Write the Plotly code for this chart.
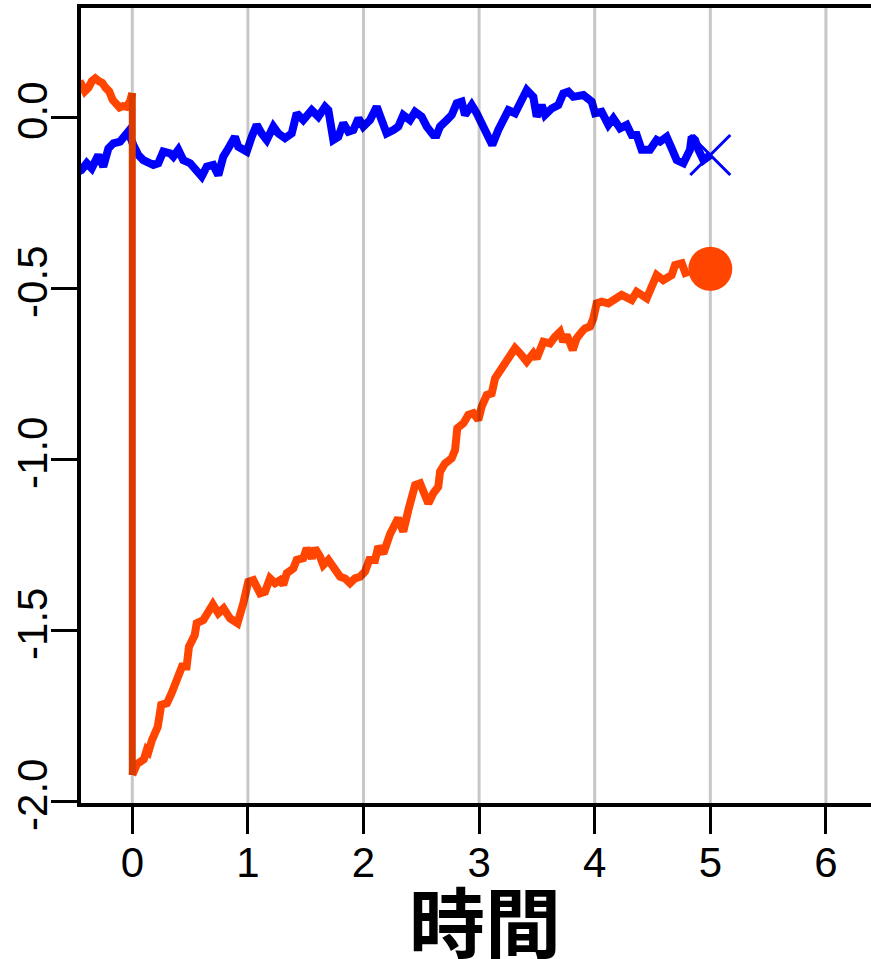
import plotly.graph_objects as go

# ---- data ----
orange_pre_x = [-0.47, -0.44, -0.41, -0.38, -0.35, -0.32, -0.29, -0.26, -0.23, -0.20, -0.17,
                -0.14, -0.11, -0.08, -0.05, -0.02, 0.0]
orange_pre_y = [0.09, 0.095, 0.075, 0.085, 0.105, 0.113, 0.105, 0.10, 0.085, 0.075, 0.05,
                0.035, 0.028, 0.032, 0.03, 0.045, 0.07]

orange_post_x = [0.0, 0.04, 0.07, 0.10, 0.125, 0.14, 0.17, 0.20, 0.22, 0.25,
                 0.30, 0.34, 0.385, 0.41, 0.43, 0.47, 0.49, 0.54, 0.557, 0.614,
                 0.657, 0.697, 0.744, 0.79, 0.845, 0.91, 0.96, 1.003, 1.047, 1.105,
                 1.148, 1.191, 1.235, 1.278, 1.306, 1.336, 1.393, 1.422, 1.479, 1.509,
                 1.552, 1.58, 1.624, 1.652, 1.696, 1.739, 1.797, 1.84, 1.883, 1.927,
                 1.97, 2.013, 2.05, 2.10, 2.128, 2.172, 2.229, 2.30, 2.344, 2.388,
                 2.446, 2.489, 2.561, 2.604, 2.647, 2.662, 2.705, 2.763, 2.792, 2.811,
                 2.863, 2.907, 2.95, 2.993, 3.022, 3.066, 3.109, 3.138, 3.181, 3.239,
                 3.311, 3.354, 3.412, 3.469, 3.498, 3.556, 3.613, 3.657, 3.70, 3.728,
                 3.758, 3.81, 3.844, 3.888, 3.916, 3.959, 3.988, 4.017, 4.06, 4.118,
                 4.161, 4.233, 4.32, 4.363, 4.45, 4.478, 4.536, 4.593, 4.666, 4.695,
                 4.753, 4.796]
orange_post_y = [-1.924, -1.892, -1.885, -1.878, -1.851, -1.856, -1.822, -1.805, -1.783, -1.719,
                 -1.714, -1.685, -1.646, -1.617, -1.607, -1.607, -1.549, -1.515, -1.48, -1.471,
                 -1.446, -1.425, -1.451, -1.437, -1.466, -1.48, -1.422, -1.359, -1.354, -1.393,
                 -1.388, -1.349, -1.363, -1.354, -1.368, -1.334, -1.32, -1.295, -1.29, -1.261,
                 -1.29, -1.261, -1.285, -1.31, -1.295, -1.315, -1.344, -1.349, -1.363, -1.349,
                 -1.344, -1.329, -1.295, -1.295, -1.256, -1.276, -1.22, -1.173, -1.212, -1.149,
                 -1.076, -1.071, -1.13, -1.10, -1.081, -1.037, -1.013, -0.998, -0.974, -0.91,
                 -0.896, -0.871, -0.866, -0.886, -0.847, -0.813, -0.808, -0.764, -0.74, -0.706,
                 -0.676, -0.691, -0.715, -0.691, -0.706, -0.657, -0.662, -0.642, -0.628, -0.657,
                 -0.637, -0.681, -0.647, -0.628, -0.618, -0.613, -0.589, -0.545, -0.540, -0.545,
                 -0.535, -0.52, -0.535, -0.511, -0.53, -0.506, -0.462, -0.477, -0.462, -0.433,
                 -0.428, -0.467]

blue_x = [-0.47, -0.44, -0.394, -0.351, -0.294, -0.251, -0.207, -0.164, -0.106, -0.035, 0.009,
          0.052, 0.095, 0.138, 0.182, 0.225, 0.268, 0.326, 0.355, 0.398, 0.441,
          0.50, 0.557, 0.60, 0.644, 0.70, 0.744, 0.787, 0.83, 0.888, 0.917,
          0.99, 1.033, 1.076, 1.119, 1.163, 1.22, 1.263, 1.321, 1.379, 1.422,
          1.479, 1.552, 1.609, 1.667, 1.696, 1.739, 1.782, 1.825, 1.869, 1.912,
          1.956, 1.998, 2.056, 2.114, 2.157, 2.20, 2.258, 2.301, 2.344, 2.402,
          2.446, 2.503, 2.547, 2.604, 2.633, 2.662, 2.72, 2.763, 2.806, 2.849,
          2.878, 2.936, 2.979, 3.036, 3.08, 3.114, 3.166, 3.209, 3.253, 3.311,
          3.354, 3.412, 3.469, 3.498, 3.541, 3.57, 3.628, 3.685, 3.728, 3.772,
          3.815, 3.858, 3.902, 3.974, 4.003, 4.06, 4.118, 4.161, 4.219, 4.277,
          4.32, 4.363, 4.406, 4.478, 4.536, 4.565, 4.622, 4.666, 4.709, 4.767,
          4.824, 4.839, 4.868, 4.897, 4.94, 5.0]
blue_y = [-0.16, -0.155, -0.135, -0.150, -0.111, -0.145, -0.092, -0.077, -0.072, -0.043, -0.082,
          -0.111, -0.126, -0.131, -0.140, -0.135, -0.101, -0.106, -0.116, -0.096, -0.126,
          -0.135, -0.155, -0.174, -0.145, -0.140, -0.170, -0.116, -0.092, -0.058, -0.087,
          -0.101, -0.058, -0.023, -0.048, -0.067, -0.028, -0.048, -0.062, -0.048, 0.011,
          -0.009, 0.020, 0.001, 0.030, 0.020, -0.067, -0.058, -0.018, -0.043, -0.038,
          -0.004, -0.028, -0.009, 0.030, -0.009, -0.048, -0.038, -0.028, 0.006, -0.009,
          0.015, 0.001, -0.028, -0.053, -0.053, -0.028, -0.009, 0.006, 0.040, 0.045,
          0.006, 0.035, 0.011, -0.028, -0.062, -0.082, -0.038, -0.009, 0.020, 0.011,
          0.040, 0.079, 0.059, 0.001, 0.035, 0.006, 0.025, 0.035, 0.069, 0.074,
          0.059, 0.059, 0.064, 0.045, 0.011, 0.015, -0.023, -0.004, -0.033, -0.023,
          -0.053, -0.053, -0.096, -0.096, -0.067, -0.072, -0.058, -0.092, -0.126, -0.135,
          -0.096, -0.058, -0.067, -0.096, -0.126, -0.111]

end_x = 5.0
orange_end_y = -0.444
blue_end_y = -0.111

x_ticks = [0, 1, 2, 3, 4, 5, 6]
x_tick_labels = ["0", "1", "2", "3", "4", "5", "6"]
y_ticks = [0.0, -0.5, -1.0, -1.5, -2.0]
y_tick_labels = ["0.0", "-0.5", "-1.0", "-1.5", "-2.0"]
x_title = "時間"

assert len(orange_post_x) == len(orange_post_y)
assert len(blue_x) == len(blue_y)
assert len(orange_pre_x) == len(orange_pre_y)

X_RANGE = [-0.4438, 6.39]
Y_RANGE = [-2.0058, 0.3187]

ORANGE = "#FF4500"
ORANGE_DARK = "#DA3C00"
BLUE = "#0000FF"
LW = 8

fig = go.Figure()

fig.add_trace(go.Scatter(x=orange_pre_x, y=orange_pre_y, mode="lines",
                         line=dict(color=ORANGE, width=LW), hoverinfo="skip"))
fig.add_trace(go.Scatter(x=orange_post_x, y=orange_post_y, mode="lines",
                         line=dict(color=ORANGE, width=LW), hoverinfo="skip"))
fig.add_trace(go.Scatter(x=blue_x, y=blue_y, mode="lines",
                         line=dict(color=BLUE, width=LW), hoverinfo="skip"))

# vertical grid lines (drawn over the series lines, semi-transparent)
gx, gy = [], []
for t in x_ticks:
    gx += [t, t, None]
    gy += [Y_RANGE[0], Y_RANGE[1], None]
fig.add_trace(go.Scatter(x=gx, y=gy, mode="lines",
                         line=dict(color="rgba(0,0,0,0.22)", width=3),
                         hoverinfo="skip", cliponaxis=True))

# vertical jump at time 0
fig.add_trace(go.Scatter(x=[orange_pre_x[-1], orange_post_x[0]],
                         y=[orange_pre_y[-1], orange_post_y[0]], mode="lines",
                         line=dict(color=ORANGE_DARK, width=7), hoverinfo="skip"))

# end markers
fig.add_trace(go.Scatter(x=[end_x], y=[orange_end_y], mode="markers",
                         marker=dict(color=ORANGE, size=44, line=dict(width=0)),
                         hoverinfo="skip"))
fig.add_trace(go.Scatter(x=[end_x], y=[blue_end_y], mode="markers",
                         marker=dict(symbol="x-thin", size=40, color=BLUE,
                                     line=dict(color=BLUE, width=3)),
                         hoverinfo="skip"))

TICK_FONT = dict(family="Liberation Sans, Arial, sans-serif", size=42, color="black")

fig.update_layout(
    width=871, height=959,
    margin=dict(l=81, r=0, t=8, b=156, pad=0),
    paper_bgcolor="white", plot_bgcolor="white",
    showlegend=False,
    xaxis=dict(range=X_RANGE, tickvals=x_ticks, ticktext=x_tick_labels,
               showgrid=False, zeroline=False, automargin=False,
               showline=True, linecolor="black", linewidth=4, mirror=True,
               ticks="outside", ticklen=27, tickwidth=3, tickcolor="black",
               ticklabelstandoff=-7,
               tickfont=TICK_FONT),
    yaxis=dict(range=Y_RANGE, tickvals=y_ticks, ticktext=y_tick_labels,
               showgrid=False, zeroline=False, automargin=False,
               showline=True, linecolor="black", linewidth=4,
               ticks="outside", ticklen=26, tickwidth=3, tickcolor="black",
               ticklabelstandoff=-13,
               tickangle=-90, tickfont=TICK_FONT),
    annotations=[dict(text="<b>" + x_title + "</b>", xref="paper", yref="paper",
                      x=0.511, y=-0.146, xanchor="center", yanchor="middle",
                      showarrow=False,
                      font=dict(family="Noto Sans CJK JP", size=76, color="black"))],
)

fig.write_html("out.html")
